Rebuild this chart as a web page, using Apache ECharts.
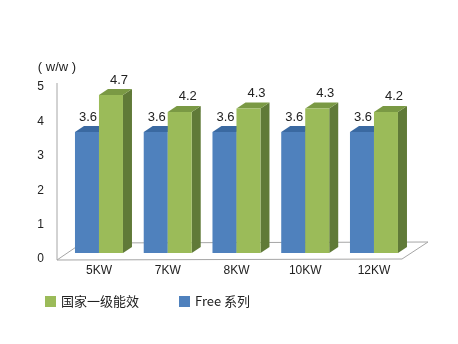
<!DOCTYPE html>
<html><head><meta charset="utf-8">
<script src="https://cdn.jsdelivr.net/npm/echarts@6/dist/echarts.min.js"></script>
<style>html,body{margin:0;padding:0;background:#fff}#c{width:458px;height:344px}</style>
</head><body><div id="c"></div>
<script>
const categories = ['5KW', '7KW', '8KW', '10KW', '12KW'];
const freeValues = [3.6, 3.6, 3.6, 3.6, 3.6];
const nationalValues = [4.7, 4.2, 4.3, 4.3, 4.2];
const yTicks = [0, 1, 2, 3, 4, 5];
const seriesNames = ['Free 系列', '国家一级能效'];

const FONT = '"Liberation Sans", Arial, "Noto Sans CJK SC", sans-serif';
const BAR_W = 24, DX = 9, DY = 6;
const palettes = [
  {front: '#4F81BD', top: '#3A69A1', side: '#2F5687'},
  {front: '#9BBB59', top: '#7A9944', side: '#607A38'}
];

function renderBar(params, api) {
  const si = params.seriesIndex - 0;
  const pal = palettes[si];
  const idx = api.value(0), val = api.value(1);
  const base = api.coord([idx, 0]);
  const top = api.coord([idx, val]);
  const x0 = si === 0 ? base[0] - BAR_W : base[0];
  const by = base[1], ty = top[1];
  const w = BAR_W;
  const children = [
    {type: 'polygon', shape: {points: [[x0 + w, ty], [x0 + w + DX, ty - DY], [x0 + w + DX, by - DY], [x0 + w, by]]}, style: {fill: pal.side}},
    {type: 'polygon', shape: {points: [[x0, ty], [x0 + DX, ty - DY], [x0 + w + DX, ty - DY], [x0 + w, ty]]}, style: {fill: pal.top}},
    {type: 'rect', shape: {x: x0, y: ty, width: w, height: by - ty}, style: {fill: pal.front}},
    {type: 'text', style: {text: String(val), x: x0 + w / 2 + (si === 0 ? 1 : 8), y: ty - 15, align: 'center', verticalAlign: 'middle', font: '13px ' + FONT, fill: '#222'}}
  ];
  return {type: 'group', children};
}

const chart = echarts.init(document.getElementById('c'), null, {renderer: 'canvas'});
chart.setOption({
  animation: false,
  backgroundColor: '#fff',
  grid: [
    {left: 57, top: 87, width: 350, height: 172},
    {left: 64.6, top: 85, width: 343.75, height: 168}
  ],
  xAxis: [
    {gridIndex: 0, type: 'category', data: categories, show: false},
    {gridIndex: 1, type: 'category', data: categories,
     axisLine: {show: false}, axisTick: {show: false}, splitLine: {show: false},
     axisLabel: {margin: 12, fontSize: 12, color: '#222', fontFamily: FONT}}
  ],
  yAxis: [
    {gridIndex: 0, type: 'value', min: 0, max: 5, interval: 1,
     name: '( w/w )', nameLocation: 'end', nameGap: 13,
     nameTextStyle: {fontSize: 13, color: '#222', fontFamily: FONT, align: 'center'},
     axisLine: {show: false}, axisTick: {show: false}, splitLine: {show: false},
     axisLabel: {margin: 13, fontSize: 12, color: '#222', fontFamily: FONT,
       formatter: v => yTicks.includes(v) ? String(v) : ''}},
    {gridIndex: 1, type: 'value', min: 0, max: 5, interval: 1, show: false}
  ],
  legend: {
    left: 40, top: 290, itemWidth: 11, itemHeight: 11, itemGap: 40,
    data: [{name: seriesNames[1], icon: 'rect'}, {name: seriesNames[0], icon: 'rect'}],
    textStyle: {fontSize: 13, color: '#222', fontFamily: '"Noto Sans CJK SC", "Liberation Sans", sans-serif'}
  },
  graphic: [
    {type: 'polygon', z: 0, shape: {points: [[57, 260], [82, 243], [428, 242], [402, 259]]},
     style: {fill: '#fff', stroke: '#a6a6a6', lineWidth: 1}},
    {type: 'line', z: 0, shape: {x1: 57, y1: 83, x2: 57, y2: 260}, style: {stroke: '#a6a6a6', lineWidth: 1}}
  ],
  series: [
    {name: seriesNames[0], type: 'custom', xAxisIndex: 1, yAxisIndex: 1, z: 3,
     itemStyle: {color: palettes[0].front}, renderItem: renderBar,
     data: categories.map((c, i) => [i, freeValues[i]])},
    {name: seriesNames[1], type: 'custom', xAxisIndex: 1, yAxisIndex: 1, z: 4,
     itemStyle: {color: palettes[1].front}, renderItem: renderBar,
     data: categories.map((c, i) => [i, nationalValues[i]])}
  ]
});
</script></body></html>
